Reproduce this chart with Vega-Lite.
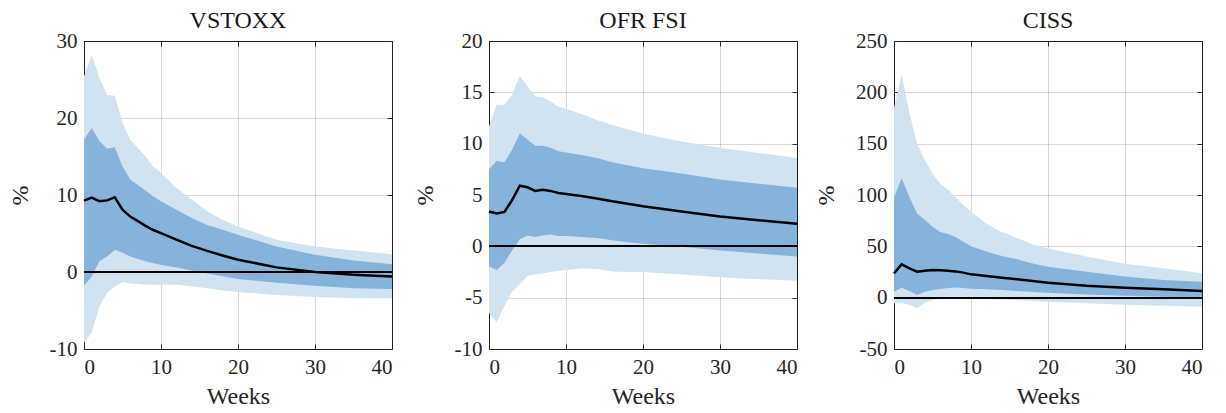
{
  "$schema": "https://vega.github.io/schema/vega-lite/v6.json",
  "background": "white",
  "padding": {"left": 7, "top": 8, "right": 10, "bottom": 5},
  "datasets": {
    "vstoxx": [
      {"w": 0, "lo90": -9.2, "lo68": -1.8, "med": 9.26, "hi68": 17.2, "hi90": 25.4},
      {"w": 1, "lo90": -7.9, "lo68": -0.6, "med": 9.65, "hi68": 18.7, "hi90": 28.2},
      {"w": 2, "lo90": -4.5, "lo68": 1.4, "med": 9.2, "hi68": 17.0, "hi90": 25.2},
      {"w": 3, "lo90": -2.7, "lo68": 2.0, "med": 9.3, "hi68": 16.0, "hi90": 23.0},
      {"w": 4, "lo90": -1.9, "lo68": 2.9, "med": 9.7, "hi68": 16.2, "hi90": 22.9},
      {"w": 5, "lo90": -1.3, "lo68": 2.5, "med": 8.1, "hi68": 13.7, "hi90": 19.4},
      {"w": 6, "lo90": -1.5, "lo68": 2.0, "med": 7.2, "hi68": 12.0, "hi90": 17.2},
      {"w": 7, "lo90": -1.55, "lo68": 1.7, "med": 6.6, "hi68": 11.3, "hi90": 16.1},
      {"w": 8, "lo90": -1.65, "lo68": 1.4, "med": 6.0, "hi68": 10.6, "hi90": 15.0},
      {"w": 9, "lo90": -1.65, "lo68": 1.15, "med": 5.45, "hi68": 9.8, "hi90": 13.7},
      {"w": 10, "lo90": -1.65, "lo68": 0.95, "med": 5.05, "hi68": 9.2, "hi90": 12.9},
      {"w": 12, "lo90": -1.65, "lo68": 0.6, "med": 4.2, "hi68": 8.1, "hi90": 10.9},
      {"w": 14, "lo90": -1.85, "lo68": 0.2, "med": 3.4, "hi68": 7.0, "hi90": 9.4},
      {"w": 16, "lo90": -2.1, "lo68": -0.2, "med": 2.75, "hi68": 6.1, "hi90": 7.9},
      {"w": 18, "lo90": -2.4, "lo68": -0.55, "med": 2.15, "hi68": 5.5, "hi90": 6.8},
      {"w": 20, "lo90": -2.6, "lo68": -0.9, "med": 1.6, "hi68": 4.85, "hi90": 5.9},
      {"w": 25, "lo90": -3.0, "lo68": -1.4, "med": 0.6, "hi68": 3.3, "hi90": 4.2},
      {"w": 30, "lo90": -3.25, "lo68": -1.8, "med": 0.0, "hi68": 2.25, "hi90": 3.3},
      {"w": 35, "lo90": -3.4, "lo68": -2.1, "med": -0.35, "hi68": 1.5, "hi90": 2.8},
      {"w": 40, "lo90": -3.4, "lo68": -2.2, "med": -0.6, "hi68": 1.0, "hi90": 2.3}
    ],
    "ofr": [
      {"w": 0, "lo90": -6.5, "lo68": -1.95, "med": 3.4, "hi68": 7.5, "hi90": 11.7},
      {"w": 1, "lo90": -7.4, "lo68": -2.3, "med": 3.2, "hi68": 8.3, "hi90": 13.8},
      {"w": 2, "lo90": -5.8, "lo68": -1.6, "med": 3.35, "hi68": 8.2, "hi90": 13.8},
      {"w": 3, "lo90": -4.4, "lo68": -0.4, "med": 4.5, "hi68": 9.4, "hi90": 14.8},
      {"w": 4, "lo90": -3.7, "lo68": 0.7, "med": 5.9, "hi68": 11.0, "hi90": 16.6},
      {"w": 5, "lo90": -2.9, "lo68": 1.05, "med": 5.75, "hi68": 10.4, "hi90": 15.6},
      {"w": 6, "lo90": -2.75, "lo68": 0.9, "med": 5.4, "hi68": 9.8, "hi90": 14.6},
      {"w": 7, "lo90": -2.65, "lo68": 1.05, "med": 5.5, "hi68": 9.8, "hi90": 14.5},
      {"w": 8, "lo90": -2.5, "lo68": 1.15, "med": 5.4, "hi68": 9.6, "hi90": 14.1},
      {"w": 9, "lo90": -2.4, "lo68": 1.0, "med": 5.2, "hi68": 9.25, "hi90": 13.6},
      {"w": 10, "lo90": -2.3, "lo68": 1.0, "med": 5.1, "hi68": 9.15, "hi90": 13.4},
      {"w": 12, "lo90": -2.15, "lo68": 0.9, "med": 4.9, "hi68": 8.9, "hi90": 12.9},
      {"w": 14, "lo90": -2.2, "lo68": 0.8, "med": 4.65, "hi68": 8.6, "hi90": 12.3},
      {"w": 16, "lo90": -2.45, "lo68": 0.6, "med": 4.4, "hi68": 8.2, "hi90": 11.85},
      {"w": 18, "lo90": -2.5, "lo68": 0.4, "med": 4.15, "hi68": 7.9, "hi90": 11.4},
      {"w": 20, "lo90": -2.5, "lo68": 0.25, "med": 3.9, "hi68": 7.6, "hi90": 11.0},
      {"w": 25, "lo90": -2.75, "lo68": -0.05, "med": 3.4, "hi68": 7.1, "hi90": 10.2},
      {"w": 30, "lo90": -3.0, "lo68": -0.4, "med": 2.9, "hi68": 6.5, "hi90": 9.6},
      {"w": 35, "lo90": -3.2, "lo68": -0.7, "med": 2.55, "hi68": 6.1, "hi90": 9.1},
      {"w": 40, "lo90": -3.35, "lo68": -1.0, "med": 2.2, "hi68": 5.7, "hi90": 8.6}
    ],
    "ciss": [
      {"w": 0, "lo90": -5.5, "lo68": 5.8, "med": 23.7, "hi68": 98, "hi90": 185},
      {"w": 1, "lo90": -5.5, "lo68": 9.7, "med": 32.5, "hi68": 116, "hi90": 217},
      {"w": 2, "lo90": -7, "lo68": 6.5, "med": 28.6, "hi68": 98, "hi90": 180},
      {"w": 3, "lo90": -10.4, "lo68": 2.6, "med": 25.3, "hi68": 82, "hi90": 150},
      {"w": 4, "lo90": -4.9, "lo68": 5.8, "med": 26.3, "hi68": 76, "hi90": 134},
      {"w": 5, "lo90": -2.3, "lo68": 7.5, "med": 27, "hi68": 69, "hi90": 121},
      {"w": 6, "lo90": -0.6, "lo68": 8.4, "med": 26.6, "hi68": 64, "hi90": 111},
      {"w": 7, "lo90": 0, "lo68": 9.4, "med": 26.3, "hi68": 62, "hi90": 105},
      {"w": 8, "lo90": 0, "lo68": 10, "med": 25.6, "hi68": 59, "hi90": 98},
      {"w": 9, "lo90": -0.3, "lo68": 9.4, "med": 24.4, "hi68": 54.5, "hi90": 90},
      {"w": 10, "lo90": -0.6, "lo68": 8.8, "med": 22.7, "hi68": 50, "hi90": 84},
      {"w": 12, "lo90": -1.3, "lo68": 8.1, "med": 21.1, "hi68": 45, "hi90": 72},
      {"w": 14, "lo90": -1.9, "lo68": 7.5, "med": 19.5, "hi68": 40.6, "hi90": 64},
      {"w": 16, "lo90": -2.6, "lo68": 6.5, "med": 17.9, "hi68": 37.3, "hi90": 58},
      {"w": 18, "lo90": -3.2, "lo68": 5.5, "med": 16.2, "hi68": 33.4, "hi90": 52},
      {"w": 20, "lo90": -3.9, "lo68": 4.9, "med": 14.6, "hi68": 30.2, "hi90": 48},
      {"w": 25, "lo90": -5.5, "lo68": 3.2, "med": 11.7, "hi68": 25.3, "hi90": 40},
      {"w": 30, "lo90": -6.8, "lo68": 1.9, "med": 9.7, "hi68": 20.5, "hi90": 33},
      {"w": 35, "lo90": -7.8, "lo68": 1.0, "med": 8.1, "hi68": 17.2, "hi90": 28.6},
      {"w": 40, "lo90": -8.8, "lo68": -0.5, "med": 6.5, "hi68": 15.6, "hi90": 23.7}
    ]
  },
  "config": {
    "font": "Liberation Serif",
    "view": {"stroke": "#262626", "strokeWidth": 1},
    "style": {
      "guide-label": {"font": "Liberation Serif", "fontSize": 21, "fill": "#262626"},
      "guide-title": {"font": "Liberation Serif", "fontSize": 24, "fill": "#262626", "fontWeight": 400},
      "group-title": {"font": "Liberation Serif", "fontSize": 24, "fill": "#1a1a1a", "fontWeight": 400}
    },
    "axis": {
      "labelFont": "Liberation Serif",
      "titleFont": "Liberation Serif",
      "labelFontSize": 21,
      "titleFontSize": 24,
      "titleFontWeight": 400,
      "labelColor": "#262626",
      "titleColor": "#262626",
      "gridColor": "#000000",
      "gridOpacity": 0.15,
      "gridWidth": 1,
      "tickColor": "#262626",
      "tickSize": -5,
      "domain": false,
      "zindex": 1,
      "labelExpr": "'' + datum.value"
    },
    "title": {"font": "Liberation Serif", "fontSize": 24, "fontWeight": 400, "color": "#1a1a1a", "offset": -3}
  },
  "hconcat": [
    {
      "width": 308, "height": 308,
      "title": "VSTOXX",
      "data": {"name": "vstoxx"},
      "resolve": {"axis": {"x": "independent", "y": "independent"}},
      "layer": [
        {"mark": {"type": "area", "color": "#d1e2f1"}, "encoding": {
          "x": {"field": "w", "type": "quantitative", "scale": {"domain": [0, 40], "nice": false}, "axis": {"values": [0, 10, 20, 30, 40], "title": "Weeks", "titleFont": "Liberation Serif", "titleFontWeight": 400, "titlePadding": 7, "labelPadding": 12}},
          "y": {"field": "lo90", "type": "quantitative", "scale": {"domain": [-10, 30], "nice": false}, "axis": {"values": [-10, 0, 10, 20, 30], "title": "%", "titleFont": "Liberation Serif", "titleFontWeight": 400, "titlePadding": 17, "labelPadding": 12}},
          "y2": {"field": "hi90"}}},
        {"mark": {"type": "area", "color": "#86b3dc"}, "encoding": {"x": {"field": "w", "type": "quantitative", "axis": null}, "y": {"field": "lo68", "type": "quantitative", "axis": null}, "y2": {"field": "hi68"}}},
        {"mark": {"type": "rule", "color": "#000000", "strokeWidth": 1}, "encoding": {"y": {"datum": 0, "type": "quantitative", "axis": null}, "x": {"datum": 0, "type": "quantitative", "axis": null}, "x2": {"datum": 40}}},
        {"mark": {"type": "line", "color": "#000000", "strokeWidth": 2.5}, "encoding": {
          "x": {"field": "w", "type": "quantitative", "axis": {"orient": "top", "values": [0, 10, 20, 30, 40], "labels": false, "title": null, "grid": false}},
          "y": {"field": "med", "type": "quantitative", "axis": {"orient": "right", "values": [-10, 0, 10, 20, 30], "labels": false, "title": null, "grid": false}}}}
      ]
    },
    {
      "width": 308, "height": 308,
      "title": "OFR FSI",
      "data": {"name": "ofr"},
      "resolve": {"axis": {"x": "independent", "y": "independent"}},
      "layer": [
        {"mark": {"type": "area", "color": "#d1e2f1"}, "encoding": {
          "x": {"field": "w", "type": "quantitative", "scale": {"domain": [0, 40], "nice": false}, "axis": {"values": [0, 10, 20, 30, 40], "title": "Weeks", "titleFont": "Liberation Serif", "titleFontWeight": 400, "titlePadding": 7, "labelPadding": 12}},
          "y": {"field": "lo90", "type": "quantitative", "scale": {"domain": [-10, 20], "nice": false}, "axis": {"values": [-10, -5, 0, 5, 10, 15, 20], "title": "%", "titleFont": "Liberation Serif", "titleFontWeight": 400, "titlePadding": 17, "labelPadding": 12}},
          "y2": {"field": "hi90"}}},
        {"mark": {"type": "area", "color": "#86b3dc"}, "encoding": {"x": {"field": "w", "type": "quantitative", "axis": null}, "y": {"field": "lo68", "type": "quantitative", "axis": null}, "y2": {"field": "hi68"}}},
        {"mark": {"type": "rule", "color": "#000000", "strokeWidth": 1}, "encoding": {"y": {"datum": 0, "type": "quantitative", "axis": null}, "x": {"datum": 0, "type": "quantitative", "axis": null}, "x2": {"datum": 40}}},
        {"mark": {"type": "line", "color": "#000000", "strokeWidth": 2.5}, "encoding": {
          "x": {"field": "w", "type": "quantitative", "axis": {"orient": "top", "values": [0, 10, 20, 30, 40], "labels": false, "title": null, "grid": false}},
          "y": {"field": "med", "type": "quantitative", "axis": {"orient": "right", "values": [-10, -5, 0, 5, 10, 15, 20], "labels": false, "title": null, "grid": false}}}}
      ]
    },
    {
      "width": 308, "height": 308,
      "title": "CISS",
      "data": {"name": "ciss"},
      "resolve": {"axis": {"x": "independent", "y": "independent"}},
      "layer": [
        {"mark": {"type": "area", "color": "#d1e2f1"}, "encoding": {
          "x": {"field": "w", "type": "quantitative", "scale": {"domain": [0, 40], "nice": false}, "axis": {"values": [0, 10, 20, 30, 40], "title": "Weeks", "titleFont": "Liberation Serif", "titleFontWeight": 400, "titlePadding": 7, "labelPadding": 12}},
          "y": {"field": "lo90", "type": "quantitative", "scale": {"domain": [-50, 250], "nice": false}, "axis": {"values": [-50, 0, 50, 100, 150, 200, 250], "title": "%", "titleFont": "Liberation Serif", "titleFontWeight": 400, "titlePadding": 17, "labelPadding": 12}},
          "y2": {"field": "hi90"}}},
        {"mark": {"type": "area", "color": "#86b3dc"}, "encoding": {"x": {"field": "w", "type": "quantitative", "axis": null}, "y": {"field": "lo68", "type": "quantitative", "axis": null}, "y2": {"field": "hi68"}}},
        {"mark": {"type": "rule", "color": "#000000", "strokeWidth": 1}, "encoding": {"y": {"datum": 0, "type": "quantitative", "axis": null}, "x": {"datum": 0, "type": "quantitative", "axis": null}, "x2": {"datum": 40}}},
        {"mark": {"type": "line", "color": "#000000", "strokeWidth": 2.5}, "encoding": {
          "x": {"field": "w", "type": "quantitative", "axis": {"orient": "top", "values": [0, 10, 20, 30, 40], "labels": false, "title": null, "grid": false}},
          "y": {"field": "med", "type": "quantitative", "axis": {"orient": "right", "values": [-50, 0, 50, 100, 150, 200, 250], "labels": false, "title": null, "grid": false}}}}
      ]
    }
  ],
  "spacing": 97,
  "bounds": "flush"
}
